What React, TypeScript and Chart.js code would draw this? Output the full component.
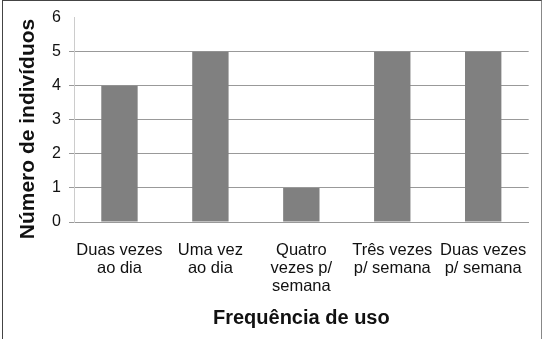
import React, { useEffect, useRef } from "react";
import { Chart, registerables } from "chart.js";

Chart.register(...registerables);

const categories: string[][] = [
  ["Duas vezes", "ao dia"],
  ["Uma vez", "ao dia"],
  ["Quatro", "vezes p/", "semana"],
  ["Três vezes", "p/ semana"],
  ["Duas vezes", "p/ semana"],
];
const values: number[] = [4, 5, 1, 5, 5];
const yTicks: number[] = [0, 1, 2, 3, 4, 5, 6];
const xTitle = "Frequência de uso";
const yTitle = "Número de indivíduos";

const FONT = "'Liberation Sans', Arial, sans-serif";

const yTitlePlugin = {
  id: "yTitlePlugin",
  afterDraw(chart: any) {
    const ctx = chart.ctx;
    ctx.save();
    ctx.translate(28, 129);
    ctx.rotate(-Math.PI / 2);
    ctx.font = `bold 21px ${FONT}`;
    ctx.fillStyle = "#111";
    ctx.textAlign = "center";
    ctx.textBaseline = "middle";
    ctx.fillText(yTitle, 0, 0);
    ctx.restore();
  },
};

export default function App() {
  const ref = useRef<HTMLCanvasElement>(null);
  useEffect(() => {
    if (!ref.current) return;
    const chart = new Chart(ref.current, {
      type: "bar",
      data: {
        labels: categories,
        datasets: [
          {
            data: values,
            backgroundColor: "#808080",
            borderWidth: 0,
            barPercentage: 0.4,
            categoryPercentage: 1,
          },
        ],
      },
      plugins: [yTitlePlugin],
      options: {
        responsive: false,
        animation: false,
        layout: { padding: { left: 0, right: 17, top: 16, bottom: 0 } },
        plugins: { legend: { display: false }, tooltip: { enabled: false } },
        scales: {
          x: {
            afterFit: (s: any) => {
              s.height = 117;
            },
            grid: { display: false, drawTicks: false },
            border: { display: true, color: "#999999", width: 1 },
            ticks: {
              color: "#111",
              font: { family: FONT, size: 16.5, lineHeight: 18 / 16.5 },
              padding: 19,
              maxRotation: 0,
              autoSkip: false,
            },
            title: {
              display: true,
              text: xTitle,
              color: "#111",
              font: { family: FONT, size: 20, weight: "bold" },
              padding: { top: 0, bottom: 9 },
            },
          },
          y: {
            min: 0,
            max: 6,
            afterFit: (s: any) => {
              s.width = 74;
            },
            afterBuildTicks: (axis: any) => {
              axis.ticks = yTicks.map((v) => ({ value: v }));
            },
            grid: {
              color: (ctx: any) => (ctx.tick && ctx.tick.value === 6 ? "rgba(0,0,0,0)" : "#999999"),
              tickLength: 5,
              drawTicks: true,
            },
            border: { display: true, color: "#cccccc", width: 1 },
            ticks: {
              color: "#111",
              font: { family: FONT, size: 16 },
              padding: 8,
            },
            title: { display: false },
          },
        },
      },
    });
    return () => chart.destroy();
  }, []);
  return (
    <div style={{ position: "fixed", left: 0, top: 0, width: 547, height: 339, background: "#fff" }}>
      <canvas ref={ref} width={547} height={339} style={{ position: "absolute", left: 0, top: 0 }} />
      <div
        style={{
          position: "absolute",
          left: 2,
          top: 0,
          width: 540,
          height: 339,
          borderLeft: "1px solid #444",
          borderTop: "1px solid #444",
          borderRight: "1px solid #888",
          boxSizing: "border-box",
          pointerEvents: "none",
        }}
      />
    </div>
  );
}
